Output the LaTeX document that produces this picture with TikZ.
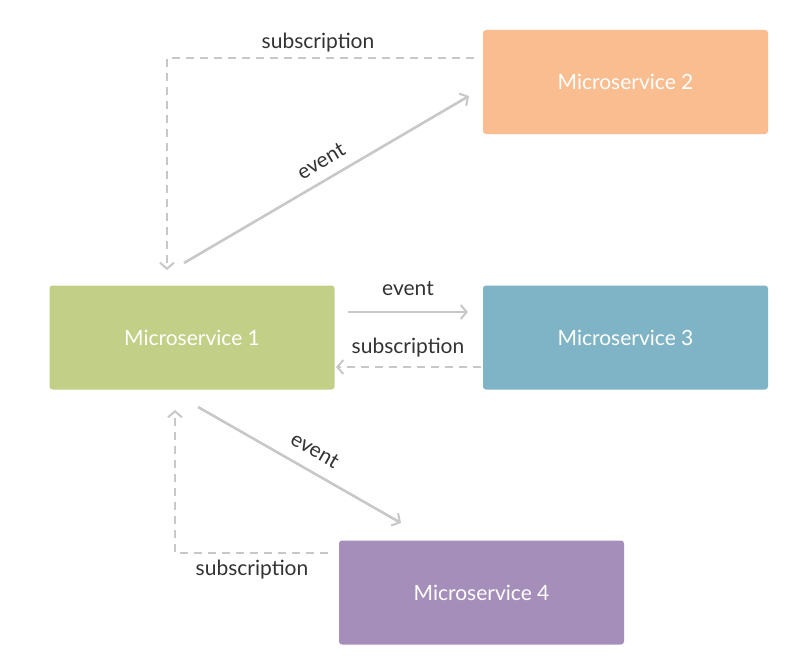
\documentclass[tikz,border=0pt]{standalone}
\usepackage{fontspec}
\setmainfont{Lato}
\usetikzlibrary{arrows.meta}
\definecolor{cms1}{HTML}{C2CF86}
\definecolor{cms2}{HTML}{F9BD8F}
\definecolor{cms3}{HTML}{7FB3C6}
\definecolor{cms4}{HTML}{A68EBB}
\definecolor{cline}{HTML}{C8C8C8}
\definecolor{ctext}{HTML}{333333}
\begin{document}
\begin{tikzpicture}[x=1pt,y=-1pt,
  svc/.style={draw=none,rounded corners=3pt,minimum width=285pt,minimum height=104pt,inner sep=0pt,text=white,font=\fontsize{21}{23}\selectfont},
  evt/.style={draw=cline,line width=2.6pt,-{Straight Barb[length=6pt,width=14pt,line width=2pt]}},
  sub/.style={draw=cline,line width=2.8pt,dash pattern=on 8pt off 6pt,-{Straight Barb[length=6pt,width=14pt,line width=2pt]}},
  lbl/.style={text=ctext,inner sep=0pt,font=\fontsize{21}{23}\selectfont}]
\useasboundingbox (0,0) rectangle (790,661);
\fill[white] (0,0) rectangle (790,661);
\node[svc,fill=cms2] (ms2) at (625.5,82) {\raisebox{-2pt}{Microservice 2}};
\node[svc,fill=cms1] (ms1) at (192,337.5) {\raisebox{-2pt}{Microservice 1}};
\node[svc,fill=cms3] (ms3) at (625.5,337.5) {\raisebox{-2pt}{Microservice 3}};
\node[svc,fill=cms4] (ms4) at (481.5,592.5) {\raisebox{-2pt}{Microservice 4}};
% subscription ms2 -> ms1
\coordinate (s2a) at (474,58);
\coordinate (s2b) at (167,58);
\coordinate (s2c) at (167,270);
\draw[sub] (s2a) -- (s2b) -- (s2c);
\node[lbl] (l1) at (318,43) {subscription};
% event ms1 -> ms2
\coordinate (e2a) at (184,263);
\coordinate (e2b) at (469,96);
\draw[evt] (e2a) -- (e2b);
\node[lbl,rotate=30.4] (l2) at (321,161) {event};
% event ms1 -> ms3
\coordinate (e3a) at (348,312);
\coordinate (e3b) at (468,312);
\draw[evt] (e3a) -- (e3b);
\node[lbl] (l3) at (408,289) {event};
% subscription ms3 -> ms1
\coordinate (s3a) at (481,367);
\coordinate (s3b) at (336,367);
\draw[sub] (s3a) -- (s3b);
\node[lbl] (l4) at (408,348) {subscription};
% event ms1 -> ms4
\coordinate (e4a) at (198,407);
\coordinate (e4b) at (401,523);
\draw[evt] (e4a) -- (e4b);
\node[lbl,rotate=-29.7] (l5) at (315,450) {event};
% subscription ms4 -> ms1
\coordinate (s4a) at (328,553);
\coordinate (s4b) at (175,553);
\coordinate (s4c) at (175,410);
\draw[sub] (s4a) -- (s4b) -- (s4c);
\node[lbl] (l6) at (252,570) {subscription};
\end{tikzpicture}
\end{document}
